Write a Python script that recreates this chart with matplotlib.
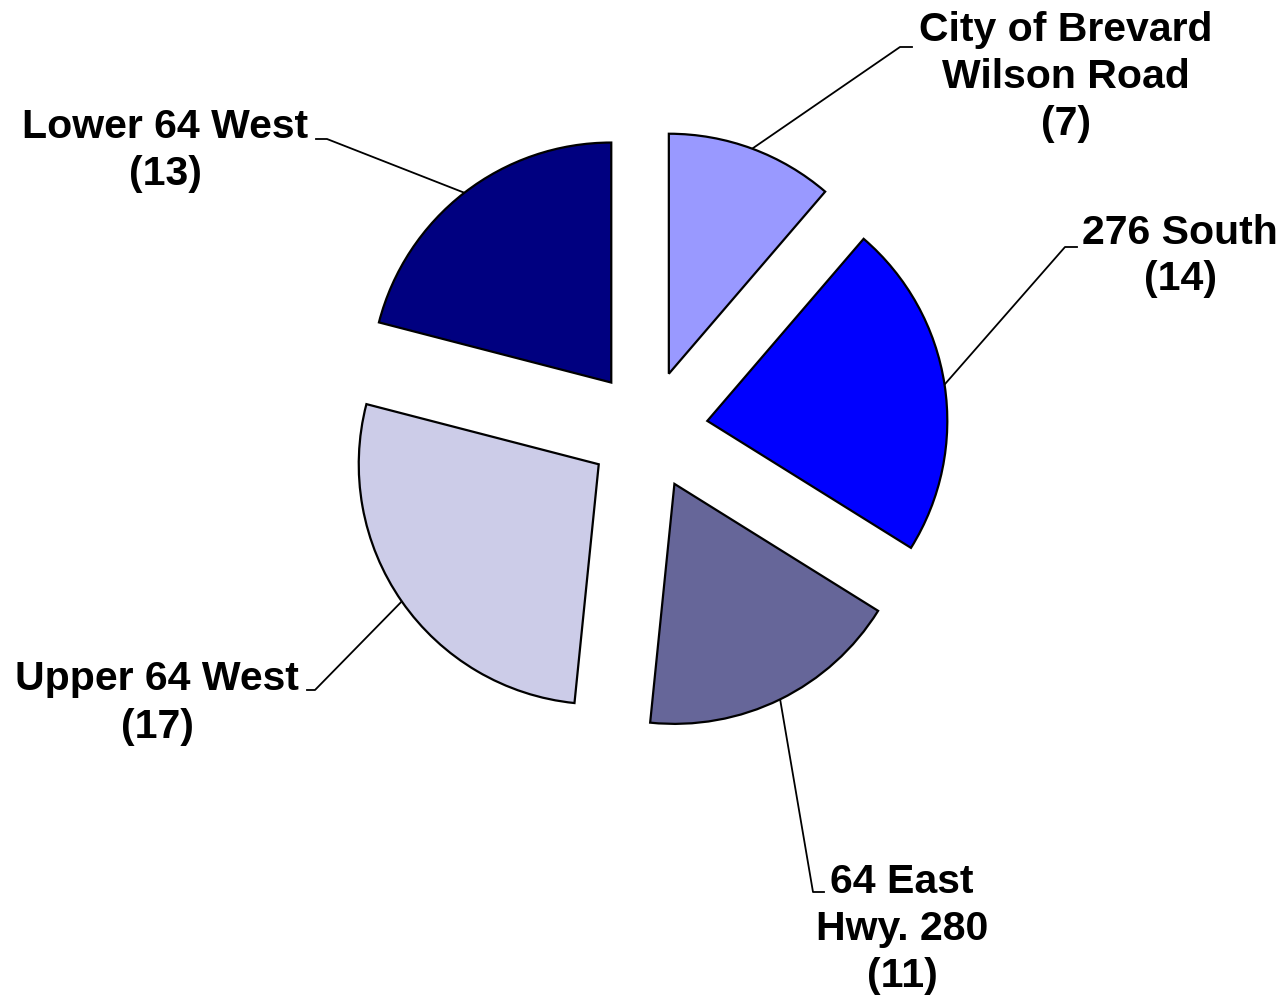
import numpy as np
import matplotlib
matplotlib.use("Agg")
import matplotlib.pyplot as plt

# ------------------------------------------------------------
# data (clockwise from 12 o'clock)
# ------------------------------------------------------------
names  = ["City of Brevard\nWilson Road", "276 South", "64 East\nHwy. 280",
          "Upper 64 West", "Lower 64 West"]
counts = [7, 14, 11, 17, 13]
colors = ["#9999FF", "#0000FF", "#666699", "#CCCCE8", "#000080"]

# ------------------------------------------------------------
# layout, in image pixels (y measured down from the top)
# ------------------------------------------------------------
W, H = 1287, 997
CENTER = (648, 430)
RADIUS = 240
EXPLODE = 60          # pie() uses explode in data units, not radius units

# leader elbow and end (next to the label text)
elbows = [(900, 47), (1065, 247), (813, 892), (315, 690), (327, 139)]
ends   = [(912, 47), (1077, 247), (824, 892), (307, 690), (316, 139)]
# label block centres
label_xy = [(1066, 77), (1180, 256), (902, 929), (157, 703), (165, 151)]

def flip(p):
    return (p[0], H - p[1])

fig = plt.figure(figsize=(W / 100, H / 100), dpi=100)
ax = fig.add_axes([0, 0, 1, 1])

wedges, _ = ax.pie(
    counts, colors=colors, startangle=90, counterclock=False,
    explode=[EXPLODE] * len(counts), radius=RADIUS, center=flip(CENTER),
    wedgeprops=dict(edgecolor="black", linewidth=1.6),
)
ax.set_xlim(0, W)
ax.set_ylim(0, H)
ax.axis("off")

# leader lines start at the middle of each slice's arc
for w, elb, end, n, c, pos in zip(wedges, elbows, ends, names, counts, label_xy):
    th = np.deg2rad((w.theta1 + w.theta2) / 2)
    cx, cy = w.center
    p0 = (cx + RADIUS * np.cos(th), cy + RADIUS * np.sin(th))
    e1, e2 = flip(elb), flip(end)
    ax.plot([p0[0], e1[0], e2[0]], [p0[1], e1[1], e2[1]],
            color="black", lw=1.3, zorder=0)
    ax.text(*flip(pos), f"{n}\n({c})", ha="center", va="center",
            fontsize=29.5, fontweight="bold", family="Liberation Sans",
            linespacing=1.3)

fig.savefig("out.png", dpi=100)
